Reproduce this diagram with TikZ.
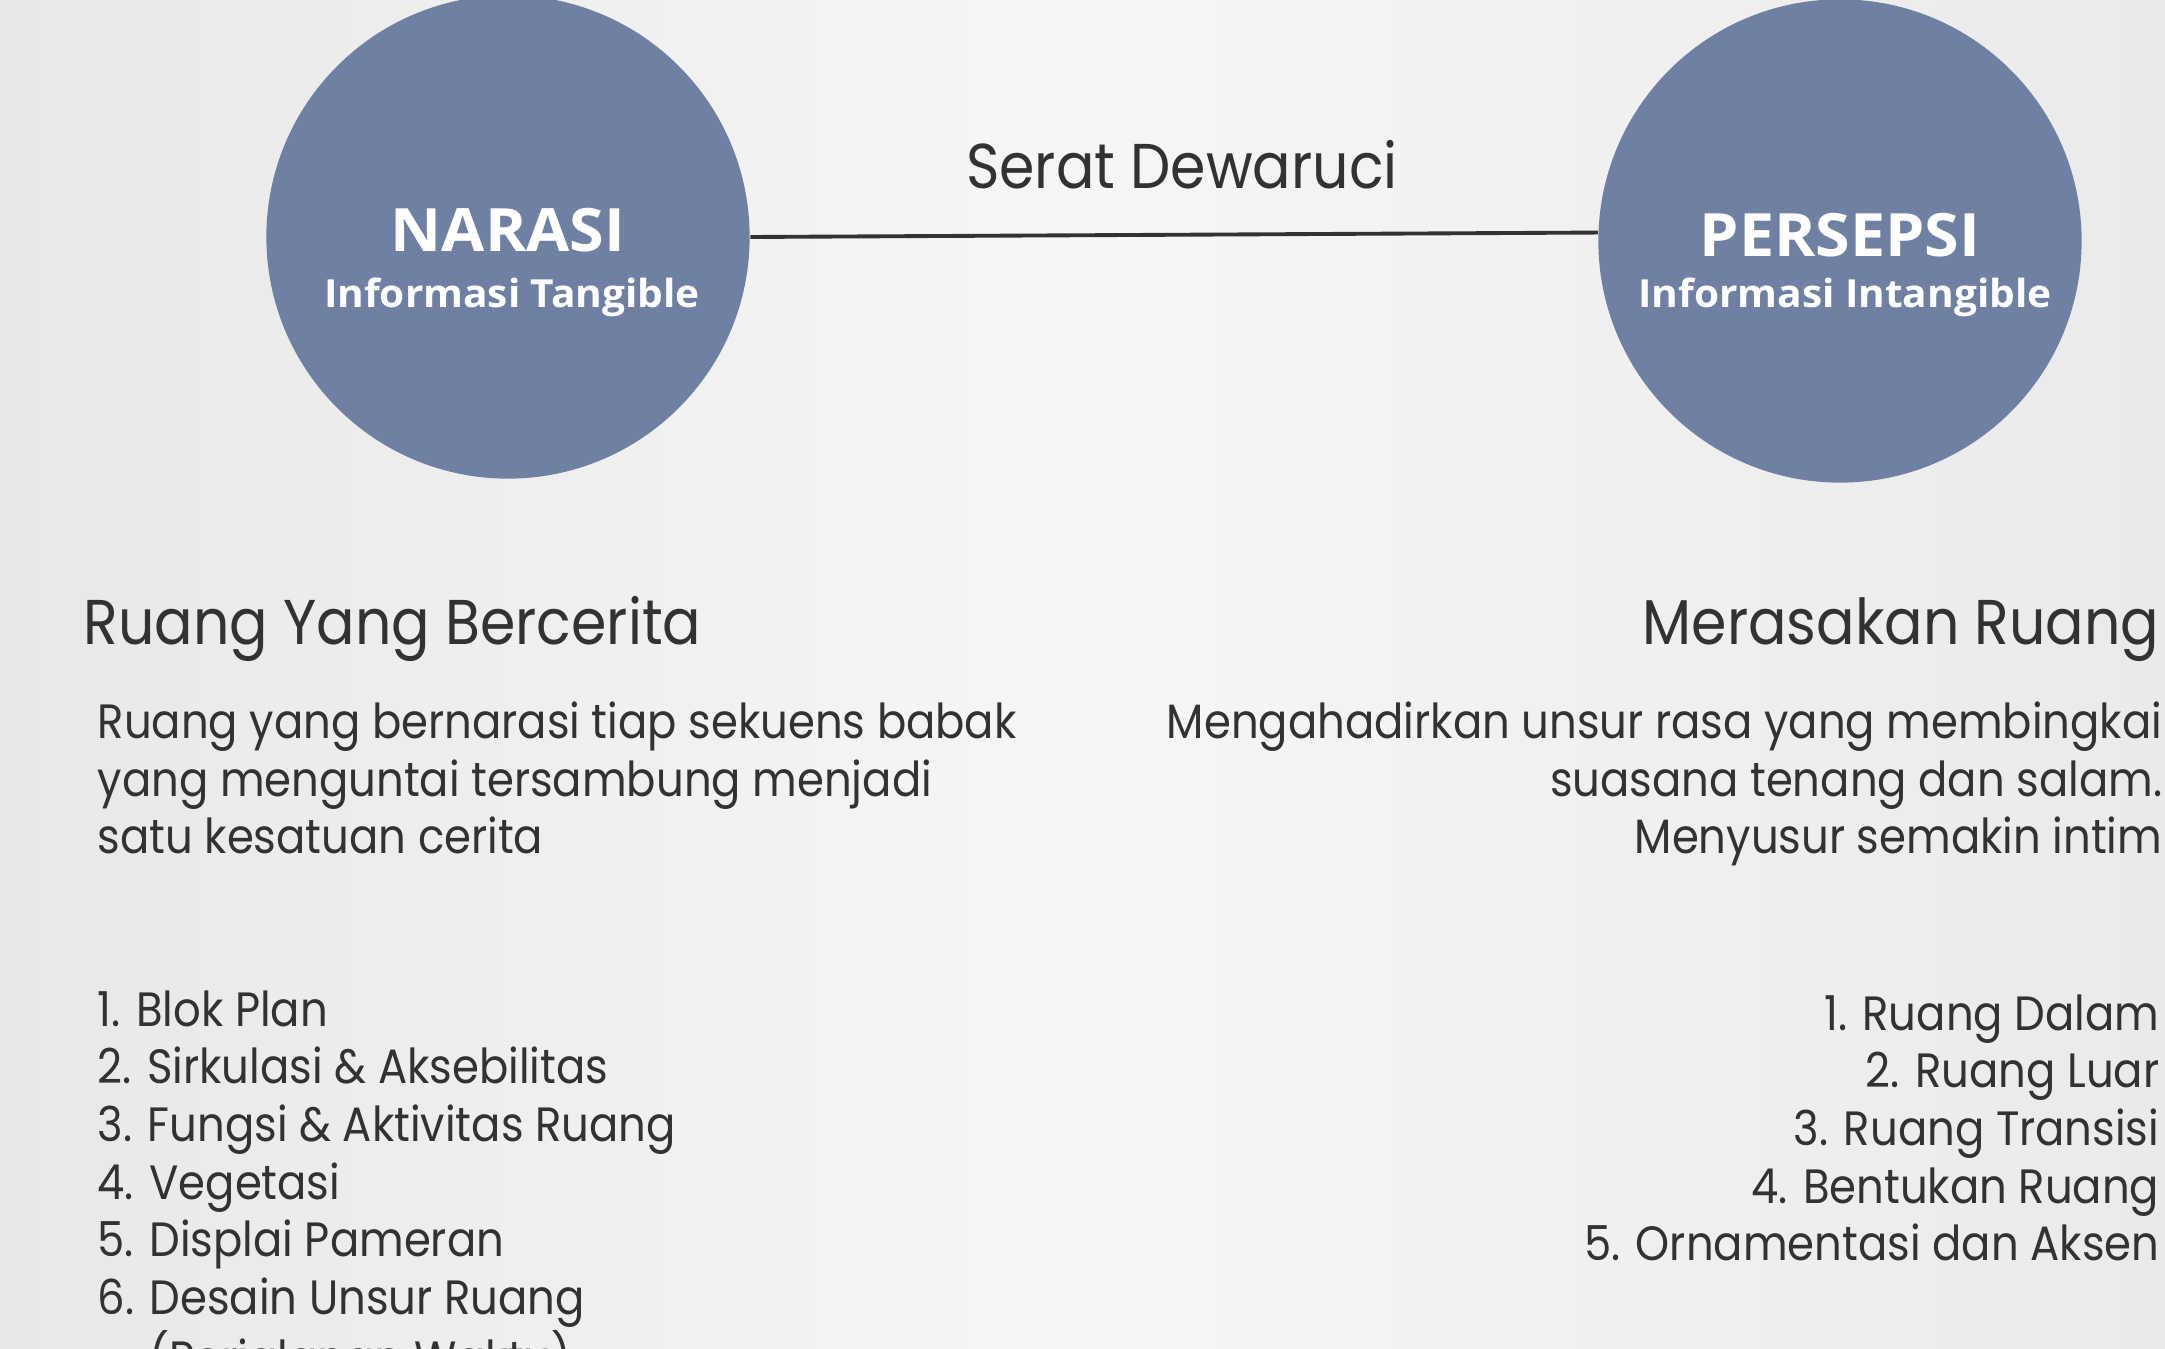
\documentclass[tikz,border=0pt]{standalone}
\usepackage{fontspec}
\setmainfont{Poppins}[FakeStretch=0.9]
\newfontfamily\bulatfont{Open Sans}[FakeStretch=1.05]
\usetikzlibrary{positioning}
\definecolor{bulat}{RGB}{111,128,163}
\definecolor{teks}{RGB}{50,50,50}
\definecolor{latarKiri}{RGB}{232,232,232}
\definecolor{latarTengah}{RGB}{246,246,246}
\definecolor{latarKanan}{RGB}{234,234,234}
\tikzset{
  every node/.style={
    inner sep=0pt,
    text=teks
  },
  garis/.style={teks, line width=1.1pt},
  lingkaran/.style={circle, fill=bulat, minimum size=4.83cm},
  judul/.style={font=\bulatfont\bfseries\fontsize{17}{20}\selectfont, text=white},
  subjudul/.style={font=\bulatfont\bfseries\fontsize{11}{14}\selectfont, text=white},
  kepala/.style={font=\fontsize{18}{22}\selectfont},
  isi/.style={font=\fontsize{13.7}{16.4}\selectfont}
}

\begin{document}
\begin{tikzpicture}[x=0.01cm, y=-0.01cm]
    \useasboundingbox (0,0) rectangle (2165,1349);
    \clip (0,0) rectangle (2165,1349);
    \fill[left color=latarKiri, right color=latarKanan, middle color=latarTengah]
      (0,0) rectangle (2165,1349);

    % lingkaran
    \node[lingkaran] (narasi) at (508,237) {};
    \node[lingkaran] (persepsi) at (1840,241) {};
    \node[judul, anchor=base] (narasiJ) at (508,252) {NARASI};
    \node[subjudul, anchor=base] (narasiS) at (512,308) {Informasi Tangible};
    \node[judul, anchor=base] (persepsiJ) at (1840,257) {PERSEPSI};
    \node[subjudul, anchor=base] (persepsiS) at (1845,308) {Informasi Intangible};

    % garis
    \draw[garis] (narasi.east) -- (persepsi.178);
    \node[kepala, anchor=base] (serat) at (1182,189) {Serat Dewaruci};

    % kiri
    \node[kepala, anchor=base west] (ruang) at (83,645) {Ruang Yang Bercerita};
    \node[isi, anchor=base west, align=left] (ruangIsi) at (97,854)
      {Ruang yang bernarasi tiap sekuens babak\\
       yang menguntai tersambung menjadi\\
       satu kesatuan cerita};
    \node[isi, anchor=base west, align=left] (ruangList) at (97,1376)
      {1. Blok Plan\\
       2. Sirkulasi \& Aksebilitas\\
       3. Fungsi \& Aktivitas Ruang\\
       4. Vegetasi\\
       5. Displai Pameran\\
       6. Desain Unsur Ruang\\
       \phantom{6. }(Perjalanan Waktu)};

    % kanan
    \node[kepala, anchor=base east] (rasa) at (2160,645) {Merasakan Ruang};
    \node[isi, anchor=base east, align=right] (rasaIsi) at (2163,854)
      {Mengahadirkan unsur rasa yang membingkai\\
       suasana tenang dan salam.\\
       Menyusur semakin intim};
    \node[isi, anchor=base east, align=right] (rasaList) at (2160,1261)
      {1. Ruang Dalam\\
       2. Ruang Luar\\
       3. Ruang Transisi\\
       4. Bentukan Ruang\\
       5. Ornamentasi dan Aksen};
\end{tikzpicture}
\end{document}
